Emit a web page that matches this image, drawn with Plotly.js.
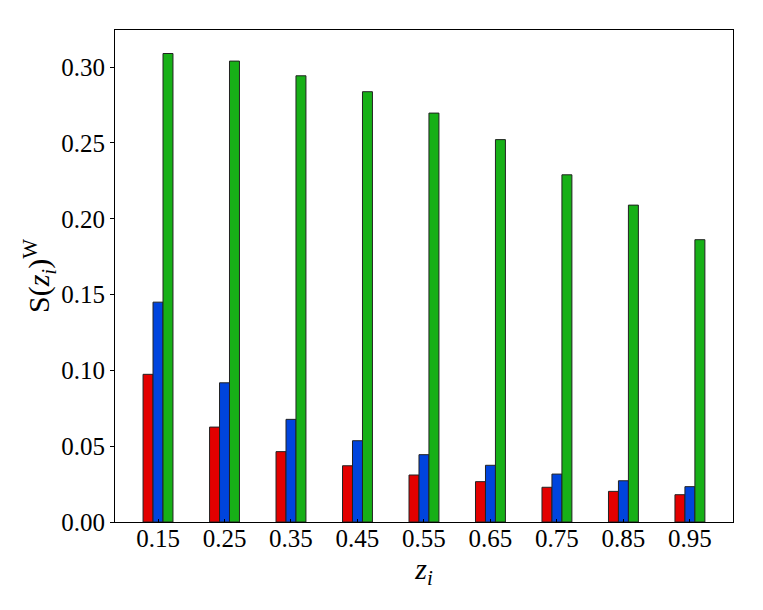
<!DOCTYPE html>
<html>
<head>
<meta charset="utf-8">
<script src="https://cdn.plot.ly/plotly-3.0.1.min.js"></script>
<style>html,body{margin:0;padding:0;background:#fff;}#chart{width:763px;height:610px;}</style>
</head>
<body>
<div id="chart"></div>
<script>
const zValues = [0.15, 0.25, 0.35, 0.45, 0.55, 0.65, 0.75, 0.85, 0.95];
const tickLabels = ["0.15", "0.25", "0.35", "0.45", "0.55", "0.65", "0.75", "0.85", "0.95"];
const redSeries = [0.0974, 0.0626, 0.0464, 0.0371, 0.0310, 0.0266, 0.0229, 0.0202, 0.0180];
const blueSeries = [0.1450, 0.0918, 0.0677, 0.0536, 0.0444, 0.0374, 0.0316, 0.0272, 0.0233];
const greenSeries = [0.3090, 0.3040, 0.2943, 0.2838, 0.2697, 0.2522, 0.2290, 0.2090, 0.1862];
const yTickVals = [0, 0.05, 0.10, 0.15, 0.20, 0.25, 0.30];
const yTickText = ["0.00", "0.05", "0.10", "0.15", "0.20", "0.25", "0.30"];

const barW = 0.015;
const edge = {color: '#222', width: 1};
function mk(y, color, off) {
  return {type: 'bar', x: zValues, y: y, width: barW, offset: off,
          marker: {color: color, line: edge}, hoverinfo: 'x+y'};
}
const traces = [
  mk(redSeries, '#e30000', -1.5 * barW),
  mk(blueSeries, '#0044dd', -0.5 * barW),
  mk(greenSeries, '#17b017', 0.5 * barW)
];
const FAM = 'Liberation Serif, DejaVu Serif, serif';
const layout = {
  width: 763, height: 610,
  margin: {l: 115, r: 30, t: 30, b: 88},
  paper_bgcolor: '#fff', plot_bgcolor: '#fff',
  showlegend: false,
  barmode: 'overlay',
  font: {family: FAM, size: 25, color: '#000'},
  xaxis: {
    range: [0.0853, 1.0148], tickvals: zValues, ticktext: tickLabels,
    showgrid: false, zeroline: false, showline: true, mirror: true,
    linecolor: '#000', linewidth: 1, ticks: 'inside', ticklen: 3, tickcolor: '#000',
    ticklabelstandoff: -6,
    tickfont: {family: FAM, size: 25, color: '#000'},
    title: {text: '<i>z<sub>i</sub></i>', font: {family: FAM, size: 30, color: '#000'}, standoff: 4}
  },
  yaxis: {
    range: [0, 0.3245], tickvals: yTickVals, ticktext: yTickText,
    showgrid: false, zeroline: false, showline: true, mirror: true,
    linecolor: '#000', linewidth: 1, ticks: 'outside', ticklen: 4, tickcolor: '#000',
    tickfont: {family: FAM, size: 25, color: '#000'},
    title: {text: 'S(<i>z<sub>i</sub></i>)<sup>W</sup>', font: {family: FAM, size: 30, color: '#000'}, standoff: 2}
  }
};
Plotly.newPlot('chart', traces, layout, {displayModeBar: false, staticPlot: true});
</script>
</body>
</html>
